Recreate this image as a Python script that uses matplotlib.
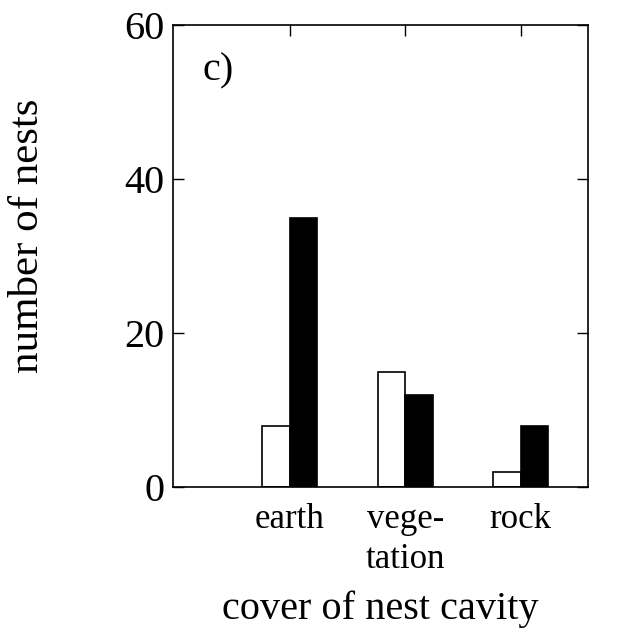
import numpy as np
import matplotlib
matplotlib.use("Agg")
import matplotlib.pyplot as plt

# dados (c)
categories = ["earth", "vege-\ntation", "rock"]
white_counts = [8, 15, 2]
black_counts = [35, 12, 8]
y_ticks = [0, 20, 40, 60]

plt.rcParams["font.family"] = ["Liberation Serif", "DejaVu Serif"]

fig = plt.figure(figsize=(6.34, 6.42), dpi=100)
ax = fig.add_axes([0.273, 0.241, 0.654, 0.72])

x = np.arange(1, len(categories) + 1)
w = 0.24
ax.bar(x - w / 2, white_counts, width=w, color="white", edgecolor="black", linewidth=1.2)
ax.bar(x + w / 2, black_counts, width=w, color="black", edgecolor="black", linewidth=1.2)

ax.set_xlim(-0.01, 3.58)
ax.set_ylim(0, 60)
ax.set_yticks(y_ticks)
ax.set_xticks(x)
ax.set_xticklabels(categories, fontsize=25, linespacing=1.3)
ax.tick_params(axis="y", labelsize=29, direction="in", length=8, width=1,
               right=True, pad=6)
ax.tick_params(axis="x", direction="in", length=0, pad=11, top=False)

# marcas no topo (para dentro), sem rótulo
sec = ax.secondary_xaxis("top")
sec.set_xticks(x)
sec.set_xticklabels([])
sec.tick_params(direction="in", length=8, width=1)
sec.spines["top"].set_visible(False)

for s in ax.spines.values():
    s.set_linewidth(1.2)

ax.text(0.072, 0.9, "c)", transform=ax.transAxes, fontsize=29, va="center")

ax.set_ylabel("number of nests", fontsize=31)
ax.yaxis.set_label_coords(-0.305, 0.545)
ax.set_xlabel("cover of nest cavity", fontsize=29, labelpad=10)

fig.savefig("out.png", dpi=100)
